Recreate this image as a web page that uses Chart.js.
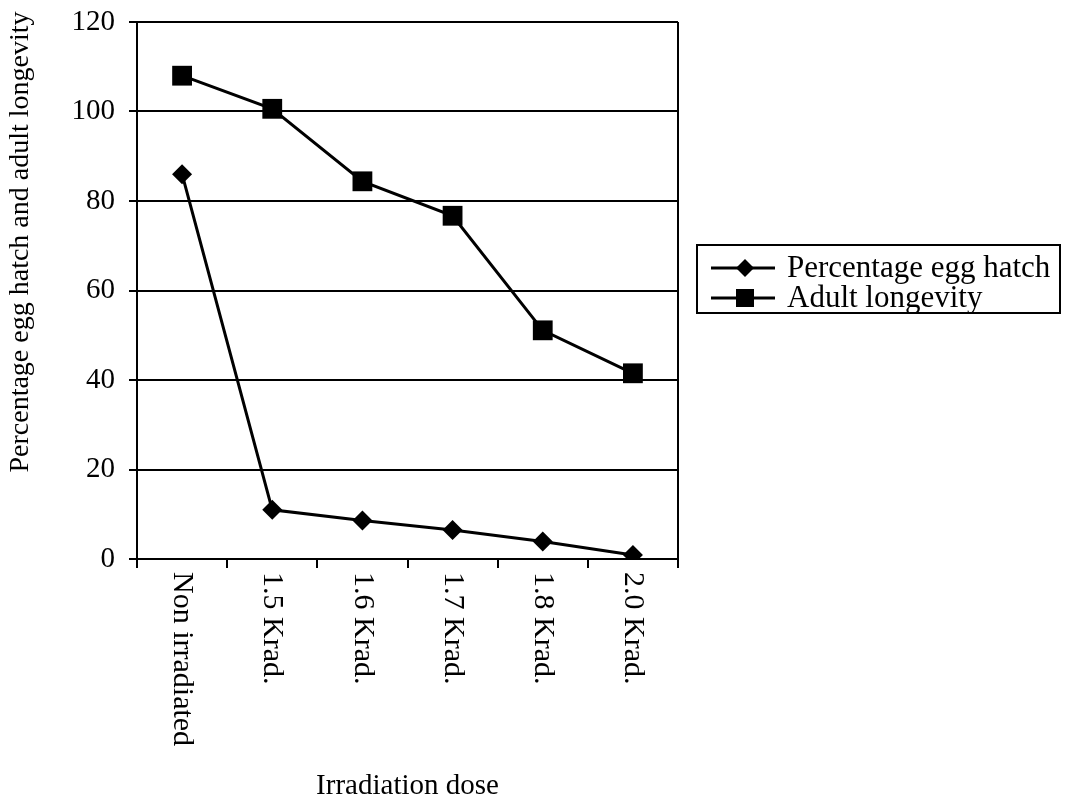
<!DOCTYPE html>
<html>
<head>
<meta charset="utf-8">
<script src="https://cdn.jsdelivr.net/npm/chart.js@4.4.1/dist/chart.umd.min.js"></script>
<style>
  html, body { margin: 0; padding: 0; background: #fff; }
  #wrap { width: 1066px; height: 807px; }
</style>
</head>
<body>
<div id="wrap"><canvas id="c"></canvas></div>
<script>
const doses = ['Non irradiated', '1.5 Krad.', '1.6 Krad.', '1.7 Krad.', '1.8 Krad.', '2.0 Krad.']
const eggHatch = [86, 11, 8.6, 6.5, 3.9, 0.9]
const longevity = [108, 100.6, 84.4, 76.7, 51.1, 41.5]
const yTicks = [0, 20, 40, 60, 80, 100, 120]
const xTitle = 'Irradiation dose'
const yTitle = 'Percentage egg hatch and adult longevity'

const serif = '"Liberation Serif", "Times New Roman", serif'

// x labels read top-to-bottom, and the y title sits a bit high, so both are drawn here
const extras = {
  id: 'extras',
  afterDraw(chart) {
    const {ctx, chartArea} = chart
    const xs = chart.scales.x
    ctx.save()
    ctx.fillStyle = '#000'
    ctx.font = '30px ' + serif
    ctx.textAlign = 'left'
    ctx.textBaseline = 'middle'
    doses.forEach((d, i) => {
      ctx.save()
      ctx.translate(xs.getPixelForTick(i), xs.top + 13)
      ctx.rotate(Math.PI / 2)
      ctx.fillText(d, 0, 0)
      ctx.restore()
    })

    ctx.save()
    ctx.font = '28px ' + serif
    ctx.translate(21, 242)
    ctx.rotate(-Math.PI / 2)
    ctx.textAlign = 'center'
    ctx.fillText(yTitle, 0, 0)
    ctx.restore()

    // right side of the plot frame
    ctx.strokeStyle = '#000'
    ctx.lineWidth = 2
    ctx.beginPath()
    ctx.moveTo(chartArea.right, chartArea.top)
    ctx.lineTo(chartArea.right, chartArea.bottom)
    ctx.stroke()

    // legend
    const bx = chartArea.right + 19
    const by = 245
    ctx.strokeRect(bx, by, 363, 68)
    ctx.font = '31px ' + serif
    ctx.textBaseline = 'middle'
    chart.data.datasets.forEach((ds, i) => {
      const y = by + 23 + i * 30
      ctx.lineWidth = 3
      ctx.beginPath()
      ctx.moveTo(bx + 14, y)
      ctx.lineTo(bx + 78, y)
      ctx.stroke()
      const mx = bx + 48
      ctx.beginPath()
      if (ds.pointStyle === 'rectRot') {
        ctx.moveTo(mx - 9, y)
        ctx.lineTo(mx, y - 9)
        ctx.lineTo(mx + 9, y)
        ctx.lineTo(mx, y + 9)
        ctx.closePath()
      } else {
        ctx.rect(mx - 9, y - 9, 18, 18)
      }
      ctx.fill()
      ctx.fillText(ds.label, bx + 90, y + 1)
    })
    ctx.restore()
  }
}

new Chart(document.getElementById('c'), {
  type: 'line',
  data: {
    labels: doses,
    datasets: [
      {
        label: 'Percentage egg hatch',
        data: eggHatch,
        borderColor: '#000',
        backgroundColor: '#000',
        borderWidth: 3,
        pointStyle: 'rectRot',
        pointRadius: 10,
        pointBackgroundColor: '#000',
        pointBorderWidth: 0,
      },
      {
        label: 'Adult longevity',
        data: longevity,
        borderColor: '#000',
        backgroundColor: '#000',
        borderWidth: 3,
        pointStyle: 'rect',
        pointRadius: 14,
        pointBackgroundColor: '#000',
        pointBorderWidth: 0,
      },
    ]
  },
  options: {
    responsive: true,
    maintainAspectRatio: false,
    animation: false,
    layout: {
      padding: {left: 0, top: 22, right: 388, bottom: 0},
    },
    plugins: {
      legend: {display: false},
      tooltip: {enabled: false},
    },
    scales: {
      x: {
        type: 'category',
        offset: true,
        afterFit(scale) { scale.height = 248 },
        grid: {
          offset: true,
          drawOnChartArea: false,
          drawTicks: true,
          tickLength: 9,
          color: '#000',
          lineWidth: 2,
        },
        border: {color: '#000', width: 2},
        ticks: {
          color: 'rgba(0,0,0,0)',
          minRotation: 90,
          maxRotation: 90,
          font: {family: serif, size: 27},
        },
        title: {
          display: true,
          text: xTitle,
          color: '#000',
          font: {family: serif, size: 29},
          padding: 3,
        },
      },
      y: {
        min: 0,
        max: 120,
        afterFit(scale) {
          scale.width = 137
          scale.paddingTop = 0
          scale.paddingBottom = 0
        },
        afterBuildTicks(scale) { scale.ticks = yTicks.map(v => ({value: v})) },
        grid: {
          color: '#000',
          lineWidth: 2,
          drawTicks: true,
          tickLength: 8,
        },
        border: {color: '#000', width: 2},
        ticks: {
          color: '#000',
          padding: 14,
          font: {family: serif, size: 29},
        },
      },
    },
  },
  plugins: [extras],
})
</script>
</body>
</html>
